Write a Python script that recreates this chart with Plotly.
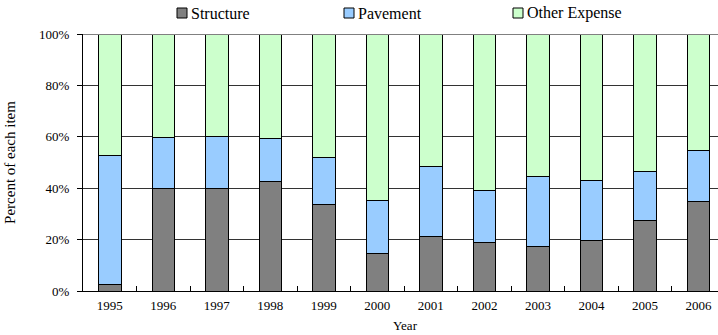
import plotly.graph_objects as go

# Share of annual spending by item (percent of yearly total)
years = ["1995", "1996", "1997", "1998", "1999", "2000",
         "2001", "2002", "2003", "2004", "2005", "2006"]
structure = [2.6, 40.0, 40.0, 42.7, 33.5, 14.5, 21.3, 18.7, 17.5, 19.6, 27.5, 35.0]
pavement = [50.0, 19.8, 20.2, 16.7, 18.5, 20.9, 27.3, 20.5, 27.2, 23.5, 18.9, 19.7]
other_expense = [47.4, 40.2, 39.8, 40.6, 48.0, 64.6, 51.4, 60.8, 55.3, 56.9, 53.6, 45.3]

series_names = ["Structure", "Pavement", "Other Expense"]
series_colors = ["#808080", "#99CCFF", "#CCFFCC"]
y_ticks = [0, 20, 40, 60, 80, 100]

FONT = "Liberation Serif, Times New Roman, serif"
W, H = 718, 335
M_L, M_R, M_T, M_B = 83, 0, 34, 44

fig = go.Figure()
for name, vals, col in zip(series_names, [structure, pavement, other_expense], series_colors):
    fig.add_trace(go.Bar(
        x=years, y=vals, name=name, width=0.42,
        marker=dict(color=col, line=dict(color="#000000", width=1)),
        showlegend=False,
    ))

# Hand-drawn legend row across the top
plot_w = W - M_L - M_R
plot_h = H - M_T - M_B
def px_x(p):
    return (p - M_L) / plot_w
def px_y(p):
    return (H - M_B - p) / plot_h

legend_x = [177, 344, 513]
shapes = []
annotations = []
for name, col, lx in zip(series_names, series_colors, legend_x):
    shapes.append(dict(type="rect", xref="paper", yref="paper",
                       x0=px_x(lx), x1=px_x(lx + 10), y0=px_y(18), y1=px_y(8),
                       fillcolor=col, line=dict(color="#000000", width=1)))
    annotations.append(dict(xref="paper", yref="paper", x=px_x(lx + 12), y=px_y(13),
                            text=name, showarrow=False, xanchor="left", yanchor="middle",
                            font=dict(family=FONT, size=16, color="#000000")))

# Heavier top border at 100%
shapes.append(dict(type="line", xref="paper", yref="y", x0=0, x1=1, y0=100, y1=100,
                   line=dict(color="#808080", width=2)))

annotations.append(dict(xref="paper", yref="paper", x=px_x(405), y=px_y(325),
                        text="Year", showarrow=False, xanchor="center", yanchor="middle",
                        font=dict(family=FONT, size=13, color="#000000")))

fig.update_layout(
    width=W, height=H,
    margin=dict(l=M_L, r=M_R, t=M_T, b=M_B, pad=0),
    barmode="stack",
    plot_bgcolor="#FFFFFF", paper_bgcolor="#FFFFFF",
    font=dict(family=FONT, size=12, color="#000000"),
    shapes=shapes,
    annotations=annotations,
    xaxis=dict(
        range=[-0.5, 11.365],
        showline=True, linecolor="#000000", linewidth=1,
        ticks="inside", tickson="boundaries", ticklen=5, tickcolor="#000000",
        showgrid=False, zeroline=False,
        tickfont=dict(family=FONT, size=13),
        ticklabelstandoff=2,
    ),
    yaxis=dict(
        range=[0, 100], tickvals=y_ticks, ticktext=[f"{v}%" for v in y_ticks],
        showline=True, linecolor="#000000", linewidth=1,
        ticks="outside", ticklen=5, tickcolor="#000000",
        showgrid=True, gridcolor="#333333", gridwidth=1, zeroline=False,
        tickfont=dict(family=FONT, size=13),
        ticklabelstandoff=5,
        title=dict(text="Percent of each item", font=dict(family=FONT, size=15), standoff=19),
    ),
)

fig.write_html("out.html")
